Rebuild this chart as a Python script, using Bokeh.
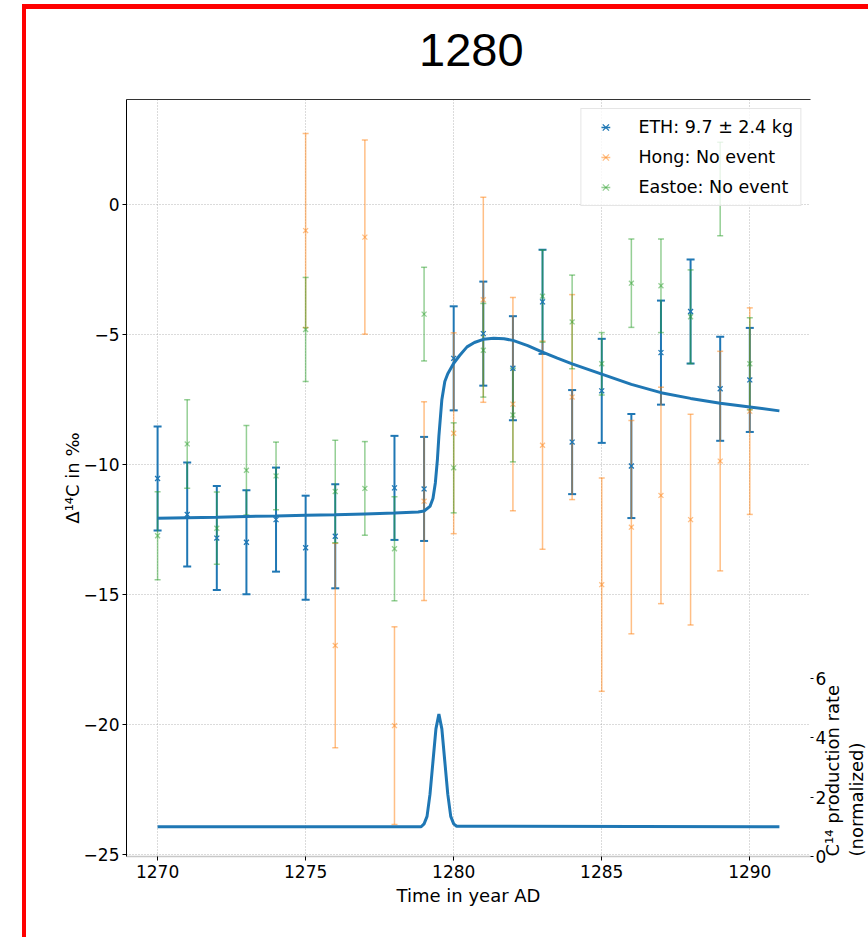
import math
from bokeh.plotting import figure
from bokeh.models import (Range1d, LinearAxis, ColumnDataSource, Whisker, TeeHead,
                          FixedTicker, CustomJSTickFormatter, Legend, LegendItem, Div)
from bokeh.layouts import column
from bokeh.embed import file_html
from bokeh.resources import INLINE

# ---------------- texts ----------------
TITLE = "1280"
X_LABEL = "Time in year AD"
Y_LABEL = "Δ¹⁴C in ‰"
Y2_LABEL = "C¹⁴ production rate\n(normalized)"

x_ticks = [1270, 1275, 1280, 1285, 1290]
y_ticks = [-25, -20, -15, -10, -5, 0]
y2_ticks = [0, 2, 4, 6]

# ---------------- data ----------------
eth_label = "ETH: 9.7 ± 2.4 kg"
eth_years = [1270, 1271, 1272, 1273, 1274, 1275, 1276, 1278, 1279, 1280,
             1281, 1282, 1283, 1284, 1285, 1286, 1287, 1288, 1289, 1290]
eth_values = [-10.53, -11.91, -12.82, -12.98, -12.11, -13.19, -12.75, -10.89, -10.93, -5.91,
              -4.96, -6.29, -3.74, -9.13, -7.16, -10.05, -5.69, -4.11, -7.08, -6.74]
eth_errors = [2.0, 2.0, 2.0, 2.0, 2.0, 2.0, 2.0, 2.0, 2.0, 2.0,
              2.0, 2.0, 2.0, 2.0, 2.0, 2.0, 2.0, 2.0, 2.0, 2.0]

hong_label = "Hong: No event"
hong_years = [1275, 1276, 1277, 1278, 1279, 1280, 1281, 1282,
              1283, 1284, 1285, 1286, 1287, 1288, 1289, 1290]
hong_values = [-1.0, -16.95, -1.25, -20.03, -11.4, -8.79, -3.66, -7.67,
               -9.25, -7.4, -14.61, -12.4, -11.18, -12.11, -9.86, -7.94]
hong_errors = [3.73, 3.93, 3.73, 3.8, 3.82, 3.86, 3.94, 4.1,
               4.0, 3.94, 4.1, 4.1, 4.16, 4.05, 4.22, 3.97]

eastoe_label = "Eastoe: No event"
eastoe_years = [1270, 1271, 1272, 1273, 1274, 1275, 1276, 1277, 1278, 1279, 1280,
                1281, 1282, 1283, 1284, 1285, 1286, 1287, 1288, 1289, 1290]
eastoe_values = [-12.73, -9.2, -12.44, -10.21, -10.43, -4.8, -11.03, -10.91, -13.23, -4.21, -10.12,
                 -5.6, -8.09, -3.52, -4.51, -6.12, -3.02, -3.12, -4.31, 0.6, -6.12]
eastoe_errors = [1.69, 1.7, 1.39, 1.72, 1.3, 2.0, 1.97, 1.8, 2.0, 1.8, 1.73,
                 1.8, 1.8, 1.77, 1.8, 1.2, 1.7, 1.8, 1.8, 1.8, 1.77]

model_years = [1270, 1271, 1272, 1273, 1274, 1275, 1276, 1277, 1278, 1278.8,
               1279.0, 1279.2, 1279.3, 1279.38, 1279.45, 1279.5, 1279.6, 1279.7, 1279.8, 1279.9,
               1280.0, 1280.2, 1280.45, 1280.7, 1281.0, 1281.35, 1281.7, 1282.0, 1282.5, 1283.0,
               1283.5, 1284, 1285, 1286, 1287, 1288, 1289, 1290, 1291]
model_values = [-12.06, -12.04, -12.02, -11.99, -11.97, -11.94, -11.92, -11.89, -11.86, -11.82,
                -11.78, -11.6, -11.3, -10.7, -9.8, -8.9, -7.5, -6.8, -6.5, -6.3,
                -6.1, -5.8, -5.47, -5.3, -5.18, -5.14, -5.16, -5.22, -5.42, -5.67,
                -5.9, -6.12, -6.52, -6.91, -7.23, -7.45, -7.64, -7.78, -7.93]

prod_years = [1270, 1278.9, 1279.0, 1279.1, 1279.2, 1279.3, 1279.4, 1279.5, 1279.6,
              1279.7, 1279.8, 1279.9, 1280.0, 1280.1, 1291]
prod_values = [1.0, 1.0, 1.1, 1.35, 2.1, 3.2, 4.3, 4.8, 4.3,
               3.2, 2.1, 1.35, 1.1, 1.02, 1.0]

# ---------------- styling ----------------
BLUE, ORANGE, GREEN = "#1f77b4", "#ff7f0e", "#2ca02c"
FONT = "DejaVu Sans"
NAN = float("nan")

x_range = Range1d(1268.95, 1292.05)
y_range = Range1d(-25.06, 4.04)
y2_range = Range1d(0, 25.5)

title_div = Div(
    text=('<div style="margin-left:393px;padding-top:17px;font-family:\'Liberation Sans\';'
          'font-size:47px;line-height:47px;color:#000;white-space:nowrap">' + TITLE + '</div>'),
    width=842, height=70, margin=0)

p = figure(frame_width=684, frame_height=757, x_range=x_range, y_range=y_range,
           output_backend="svg", toolbar_location=None, margin=0,
           min_border_left=100, min_border_right=20, min_border_top=20, min_border_bottom=81)
p.extra_y_ranges = {"right": y2_range}
p.outline_line_color = None
p.background_fill_color = "white"
p.border_fill_color = "white"

minus_fmt = CustomJSTickFormatter(code="return String(tick).replace('-', '\u2212');")

xa = p.xaxis[0]
xa.ticker = FixedTicker(ticks=x_ticks)
xa.axis_label = X_LABEL
xa.axis_line_color = "#c8c8c8"
xa.axis_line_width = 1.5
xa.major_tick_line_color = "black"
xa.major_tick_out = 4
xa.major_tick_in = 0
xa.minor_tick_out = 0
xa.minor_tick_in = 0
xa.major_label_standoff = 4
xa.axis_label_standoff = 4

ya = p.yaxis[0]
ya.ticker = FixedTicker(ticks=y_ticks)
ya.formatter = minus_fmt
ya.axis_label = Y_LABEL
ya.axis_line_color = "black"
ya.major_tick_line_color = "black"
ya.major_tick_out = 4
ya.major_tick_in = 0
ya.minor_tick_out = 0
ya.minor_tick_in = 0
ya.major_label_standoff = 3
ya.axis_label_standoff = -2

ya2 = LinearAxis(y_range_name="right", ticker=FixedTicker(ticks=y2_ticks), bounds=(-0.74, 6.1))
ya2.axis_line_color = None
ya2.major_tick_line_color = "black"
ya2.major_tick_out = 3
ya2.major_tick_in = 0
ya2.minor_tick_out = 0
ya2.minor_tick_in = 0
ya2.major_label_standoff = 2
ya2.axis_label = Y2_LABEL
ya2.axis_label_standoff = 15
ya2.axis_label_orientation = math.pi / 2
ya2.axis_label_align = "start"
ya2.axis_label_text_line_height = 1.17
p.add_layout(ya2, "right")

top_ax = LinearAxis(ticker=FixedTicker(ticks=[]))
top_ax.axis_line_color = "#333333"
top_ax.major_tick_out = 0
top_ax.major_tick_in = 0
top_ax.minor_tick_out = 0
top_ax.minor_tick_in = 0
top_ax.major_label_standoff = 0
p.add_layout(top_ax, "above")

for ax in (xa, ya, ya2):
    ax.major_label_text_font = FONT
    ax.major_label_text_font_size = "17px"
    ax.major_label_text_color = "black"
    ax.axis_label_text_font = FONT
    ax.axis_label_text_font_size = "18px"
    ax.axis_label_text_font_style = "normal"
    ax.axis_label_text_color = "black"

p.xgrid.ticker = FixedTicker(ticks=x_ticks)
p.ygrid.ticker = FixedTicker(ticks=y_ticks)
for g in (p.xgrid, p.ygrid):
    g.grid_line_color = "#999999"
    g.grid_line_alpha = 0.7
    g.grid_line_width = 1
    g.grid_line_dash = "1 2"

# ---------------- error bars ----------------
def add_series(years, vals, errs, color, alpha, lw, cap):
    src = ColumnDataSource(dict(
        x=years, y=vals,
        upper=[v + e for v, e in zip(vals, errs)],
        lower=[v - e for v, e in zip(vals, errs)]))
    w = Whisker(source=src, base="x", upper="upper", lower="lower", dimension="height",
                line_color=color, line_alpha=alpha, line_width=lw,
                upper_head=TeeHead(size=cap, line_color=color, line_alpha=alpha, line_width=lw),
                lower_head=TeeHead(size=cap, line_color=color, line_alpha=alpha, line_width=lw))
    p.add_layout(w)
    return src

srcs = [
    (add_series(eth_years, eth_values, eth_errors, BLUE, 1.0, 2.0, 8), BLUE, 1.0),
    (add_series(hong_years, hong_values, hong_errors, ORANGE, 0.5, 1.5, 6), ORANGE, 0.5),
    (add_series(eastoe_years, eastoe_values, eastoe_errors, GREEN, 0.5, 1.5, 6), GREEN, 0.5),
]
for src, color, alpha in srcs:
    p.scatter("x", "y", source=src, marker="x", size=7, line_color=color,
              line_alpha=alpha, line_width=1.3)

# ---------------- curves ----------------
p.line(model_years, model_values, line_color=BLUE, line_width=3)
p.line(prod_years, prod_values, line_color=BLUE, line_width=3, y_range_name="right")

# ---------------- legend ----------------
items = []
for lab, color, alpha in ((eth_label, BLUE, 1.0), (hong_label, ORANGE, 0.5), (eastoe_label, GREEN, 0.5)):
    r_bar = p.scatter(x=[NAN], y=[NAN], marker="dash", angle=math.pi / 2, size=10,
                      line_color=color, line_alpha=alpha, line_width=1.5)
    r_x = p.scatter(x=[NAN], y=[NAN], marker="x", size=7, line_color=color,
                    line_alpha=alpha, line_width=1.3)
    items.append(LegendItem(label=lab, renderers=[r_bar, r_x]))

legend = Legend(items=items, location="top_right", margin=9, padding=7, spacing=8,
                glyph_width=34, glyph_height=22, label_standoff=16,
                label_text_font=FONT, label_text_font_size="17.5px", label_text_color="black",
                border_line_color="#cccccc", border_line_width=1,
                background_fill_color="white", background_fill_alpha=0.8)
p.add_layout(legend)

root = column(title_div, p, spacing=0,
              styles={"margin-left": "22px", "margin-top": "4px",
                      "border-left": "4px solid #ff0000", "border-top": "5px solid #ff0000"})

with open("out.html", "w") as f:
    f.write(file_html(root, INLINE))
